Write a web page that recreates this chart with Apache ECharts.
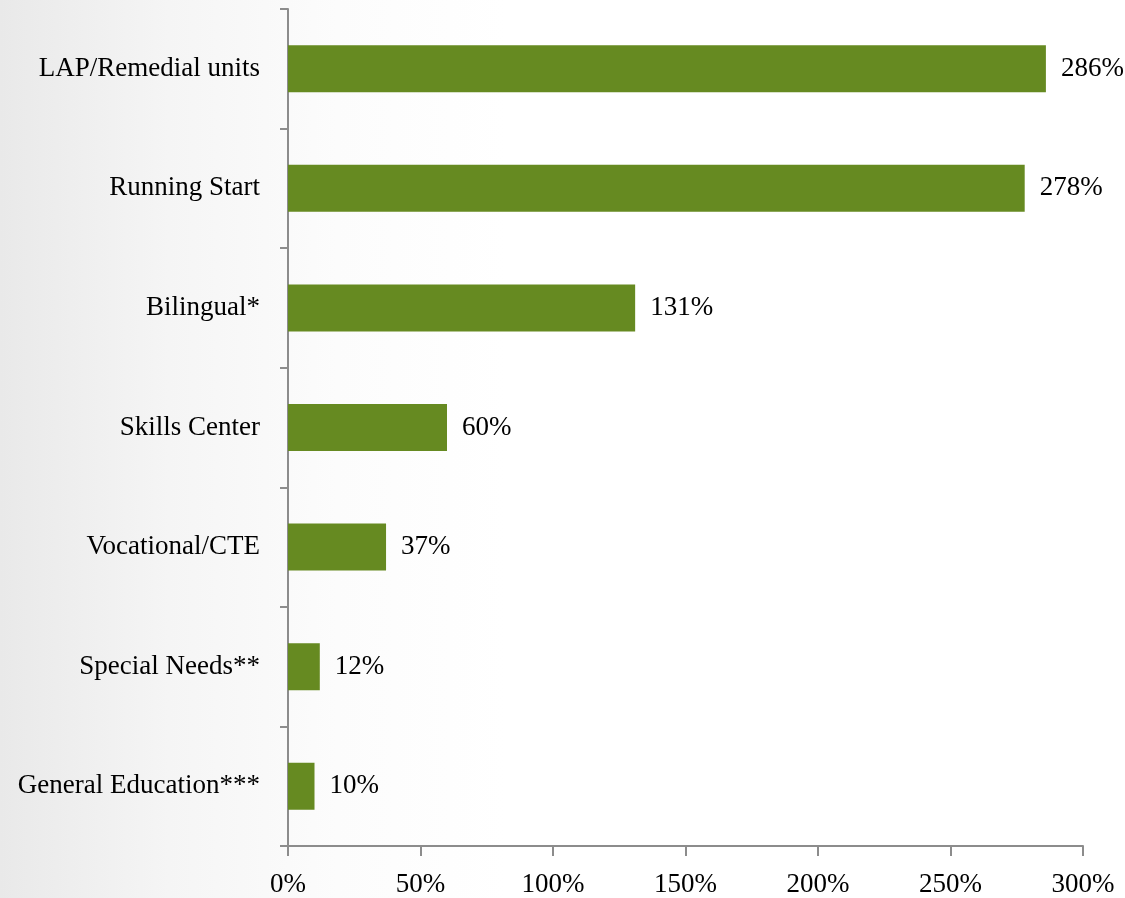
<!DOCTYPE html>
<html>
<head>
<meta charset="utf-8">
<script src="https://cdn.jsdelivr.net/npm/echarts@6/dist/echarts.min.js"></script>
<style>
html,body{margin:0;padding:0;}
#c{width:1125px;height:898px;background:linear-gradient(to right,#e9e9e9 0%,#f5f5f5 15%,#fcfcfc 30%,#ffffff 45%,#ffffff 100%);}
</style>
</head>
<body>
<div id="c"></div>
<script>
const categories = ["LAP/Remedial units","Running Start","Bilingual*","Skills Center","Vocational/CTE","Special Needs**","General Education***"];
const values = [286,278,131,60,37,12,10];
const xTicks = [0,50,100,150,200,250,300];

const FONT = "'Palatino Linotype','Book Antiqua',Palatino,'Liberation Serif',serif";
const FS = 27;
const chart = echarts.init(document.getElementById('c'));
chart.setOption({
  animation:false,
  grid:{left:288,right:42,top:9,bottom:52,containLabel:false},
  xAxis:{
    type:'value',min:xTicks[0],max:xTicks[xTicks.length-1],interval:50,
    axisLine:{show:true,lineStyle:{color:'#8c8c8c',width:2}},
    axisTick:{show:true,length:10,lineStyle:{color:'#8c8c8c',width:2}},
    splitLine:{show:false},
    axisLabel:{formatter:'{value}%',color:'#000',fontFamily:FONT,fontSize:FS,margin:25}
  },
  yAxis:{
    type:'category',data:categories,inverse:true,
    axisLine:{show:true,lineStyle:{color:'#8c8c8c',width:2}},
    axisTick:{show:true,length:8,lineStyle:{color:'#8c8c8c',width:2}},
    axisLabel:{color:'#000',fontFamily:FONT,fontSize:FS,margin:28}
  },
  series:[{
    type:'bar',data:values,barWidth:47,
    itemStyle:{color:'#668a21'},
    label:{show:true,position:'right',distance:15,formatter:'{c}%',color:'#000',fontFamily:FONT,fontSize:FS}
  }]
});
</script>
</body>
</html>
